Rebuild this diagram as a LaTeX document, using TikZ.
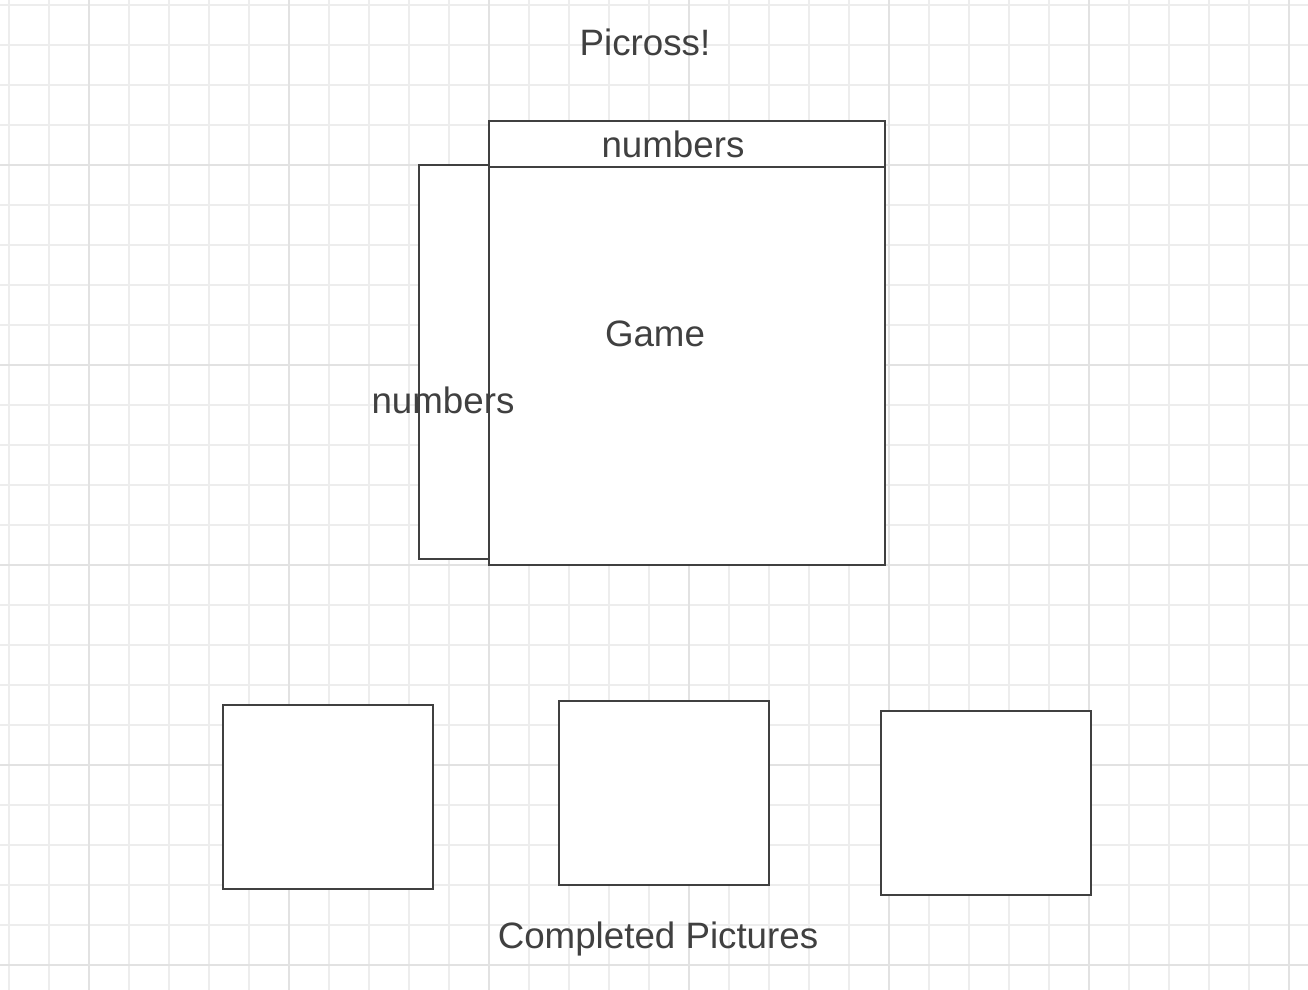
\documentclass[tikz,border=0pt]{standalone}
\usepackage{fontspec}
\setmainfont{Liberation Sans}
\usepackage{xcolor}
\definecolor{inkgray}{HTML}{404040}
\definecolor{gridminor}{HTML}{EDEDED}
\definecolor{gridmajor}{HTML}{E2E2E2}

\begin{document}
\begin{tikzpicture}[x=0.02cm, y=-0.02cm,
    box/.style={draw=inkgray, line width=1.1pt, fill=white},
    caption/.style={text=inkgray, inner sep=0pt, font=\fontsize{20.9}{24}\selectfont}]
      \useasboundingbox (0,0) rectangle (1308,990);
      \fill[white] (0,0) rectangle (1308,990);

      % grid
      \foreach \gx in {9,49,...,1308} \draw[gridminor, line width=0.9pt] (\gx,0) -- (\gx,990);
      \foreach \gy in {5,45,...,990} \draw[gridminor, line width=0.9pt] (0,\gy) -- (1308,\gy);
      \foreach \gx in {89,289,...,1308} \draw[gridmajor, line width=1pt] (\gx,0) -- (\gx,990);
      \foreach \gy in {165,365,...,990} \draw[gridmajor, line width=1pt] (0,\gy) -- (1308,\gy);

      % board
      \coordinate (rowTL) at (419,165);
      \coordinate (rowBR) at (489,559);
      \coordinate (colTL) at (489,121);
      \coordinate (colBR) at (885,167);
      \coordinate (gameTL) at (489,167);
      \coordinate (gameBR) at (885,565);

      \draw[box] (rowTL) rectangle (rowBR);
      \draw[box] (colTL) rectangle (colBR);
      \draw[box] (gameTL) rectangle (gameBR);

      % completed pictures
      \coordinate (picA1) at (223,705);
      \coordinate (picA2) at (433,889);
      \coordinate (picB1) at (559,701);
      \coordinate (picB2) at (769,885);
      \coordinate (picC1) at (881,711);
      \coordinate (picC2) at (1091,895);

      \draw[box] (picA1) rectangle (picA2);
      \draw[box] (picB1) rectangle (picB2);
      \draw[box] (picC1) rectangle (picC2);

      % labels
      \node[caption] (title) at (645,42) {Picross!};
      \node[caption] (colnums) at (673,144) {numbers};
      \node[caption] (game) at (655,334) {Game};
      \node[caption] (rownums) at (443,400) {numbers};
      \node[caption, anchor=base] (done) at (658,948) {Completed Pictures};
    \end{tikzpicture}
\end{document}
